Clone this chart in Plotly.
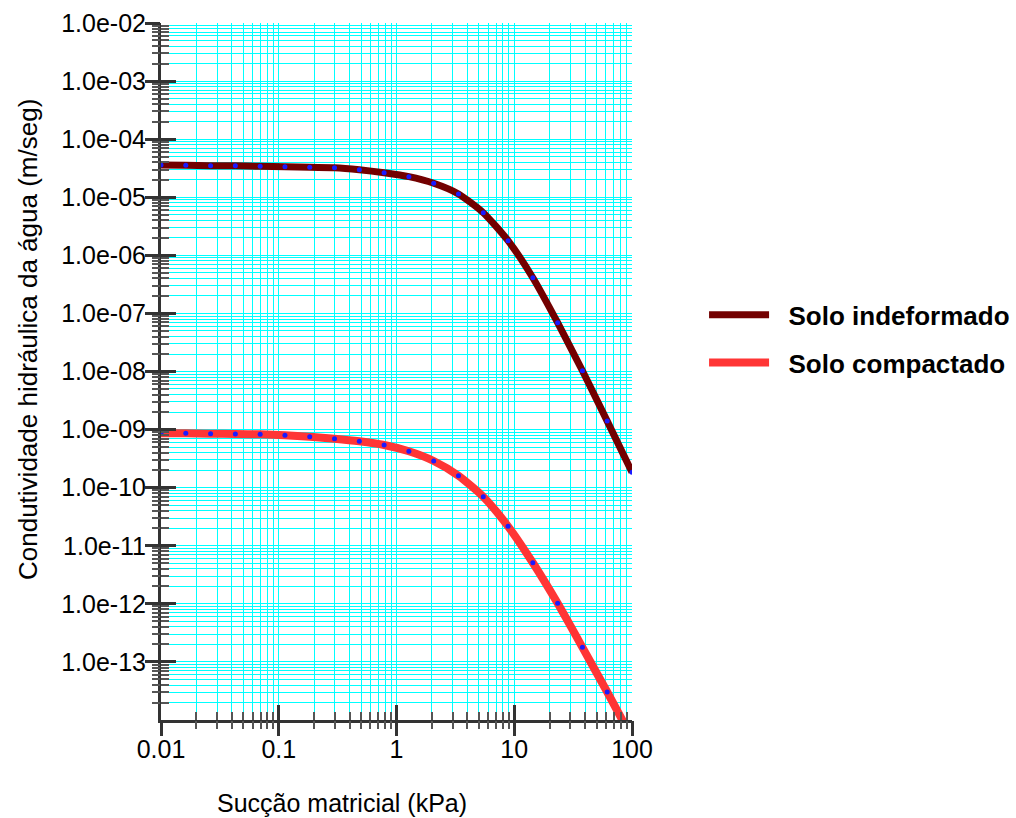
import plotly.graph_objects as go

# ---- data ----
suction_kpa = [0.01, 0.01624, 0.02637, 0.04281, 0.06952, 0.1129, 0.1833, 0.2976,
               0.4833, 0.7848, 1.274, 2.069, 3.360, 5.456, 8.859, 14.38, 23.36,
               37.93, 61.58, 100.0]
k_indeformado = [3.59e-5, 3.55e-5, 3.49e-5, 3.48e-5, 3.41e-5, 3.36e-5, 3.27e-5,
                 3.23e-5, 2.98e-5, 2.64e-5, 2.26e-5, 1.74e-5, 1.14e-5, 5.42e-6,
                 1.79e-6, 4.12e-7, 6.92e-8, 1.03e-8, 1.40e-9, 1.84e-10]
k_compactado = [8.63e-10, 8.63e-10, 8.49e-10, 8.39e-10, 8.28e-10, 7.96e-10,
                7.53e-10, 6.96e-10, 6.28e-10, 5.42e-10, 4.23e-10, 2.88e-10,
                1.61e-10, 6.98e-11, 2.16e-11, 5.1e-12, 1.02e-12, 1.78e-13,
                3.03e-14, 4.9e-15]

series_names = ["Solo indeformado", "Solo compactado"]
series_colors = ["#730000", "#FF3535"]
point_color = "#1a1aff"

x_tickvals = [0.01, 0.1, 1, 10, 100]
x_ticktext = ["0.01", "0.1", "1", "10", "100"]
y_tickvals = [1e-13, 1e-12, 1e-11, 1e-10, 1e-9, 1e-8, 1e-7, 1e-6, 1e-5, 1e-4, 1e-3, 1e-2]
y_ticktext = ["1.0e-13", "1.0e-12", "1.0e-11", "1.0e-10", "1.0e-09", "1.0e-08",
              "1.0e-07", "1.0e-06", "1.0e-05", "1.0e-04", "1.0e-03", "1.0e-02"]

x_title = "Sucção matricial (kPa)"
y_title = "Condutividade hidráulica da água (m/seg)"

FONT = "Liberation Sans, Arial, sans-serif"
GRID = "#00FFFF"
AXC = "#333333"
MINC = "#555555"

X_RANGE = [-2, 2]
Y_RANGE = [-14, -2]

x_minor = [k * 10.0 ** n for n in range(-2, 2) for k in range(2, 10)]
y_minor = [k * 10.0 ** n for n in range(-14, -2) for k in range(2, 10)]

# grid positions (major + minor) with labels only on the majors
x_grid = sorted(x_tickvals + x_minor)
x_grid_text = [dict(zip(x_tickvals, x_ticktext)).get(v, "") for v in x_grid]
y_grid = sorted(y_tickvals + y_minor)
y_grid_text = [dict(zip(y_tickvals, y_ticktext)).get(v, "") for v in y_grid]

fig = go.Figure()
for i, (name, ys, col, w) in enumerate(zip(series_names, [k_indeformado, k_compactado],
                                           series_colors, [7, 8])):
    fig.add_trace(go.Scatter(x=suction_kpa, y=ys, mode="lines",
                             name="&nbsp;&nbsp;<b>%s</b>" % name,
                             line=dict(color=col, width=w, shape="spline", smoothing=0.6),
                             legendgroup="g%d" % i))
    fig.add_trace(go.Scatter(x=suction_kpa, y=ys, mode="markers", showlegend=False,
                             marker=dict(color=point_color, size=5),
                             legendgroup="g%d" % i))

tick_font = dict(family=FONT, size=25, color="black")

layout_axes = {}
# overlay axes drawing the crossing tick marks (outer/inner, major/minor)
tick_specs = [
    (2, "outside", 15, 3, AXC, x_tickvals, y_tickvals),
    (3, "outside", 8, 2, MINC, x_minor, y_minor),
    (4, "inside", 15, 3, AXC, x_tickvals, y_tickvals),
    (5, "inside", 8, 2, MINC, x_minor, y_minor),
]
for n, side, tlen, twid, tcol, xv, yv in tick_specs:
    fig.add_trace(go.Scatter(x=[suction_kpa[0]], y=[k_indeformado[0]],
                             xaxis="x%d" % n, yaxis="y%d" % n, mode="markers",
                             marker=dict(opacity=0), showlegend=False, hoverinfo="skip"))
    layout_axes["xaxis%d" % n] = dict(
        type="log", range=X_RANGE, overlaying="x", anchor="y%d" % n, side="bottom",
        tickmode="array", tickvals=xv, showticklabels=False, showgrid=False,
        zeroline=False, showline=False, ticks=side, ticklen=tlen, tickwidth=twid,
        tickcolor=tcol)
    layout_axes["yaxis%d" % n] = dict(
        type="log", range=Y_RANGE, overlaying="y", anchor="x%d" % n, side="left",
        tickmode="array", tickvals=yv, showticklabels=False, showgrid=False,
        zeroline=False, showline=False, ticks=side, ticklen=tlen, tickwidth=twid,
        tickcolor=tcol)

fig.update_layout(
    template="none",
    width=1016, height=818,
    margin=dict(l=161, r=384, t=23, b=98, autoexpand=False),
    paper_bgcolor="white", plot_bgcolor="white",
    font=tick_font,
    showlegend=True,
    legend=dict(x=1.153, xanchor="left", y=0.547, yanchor="middle",
                font=dict(family=FONT, size=26, color="black"),
                bgcolor="rgba(0,0,0,0)", tracegroupgap=11, itemwidth=60,
                traceorder="grouped"),
    xaxis=dict(type="log", range=X_RANGE, tickmode="array", tickvals=x_grid,
               ticktext=x_grid_text, showgrid=True, gridcolor=GRID, gridwidth=1,
               showline=True, linecolor=AXC, linewidth=3, zeroline=False,
               ticks="", tickfont=tick_font, ticklabelstandoff=5),
    yaxis=dict(type="log", range=Y_RANGE, tickmode="array", tickvals=y_grid,
               ticktext=y_grid_text, showgrid=True, gridcolor=GRID, gridwidth=1,
               showline=True, linecolor=AXC, linewidth=3, zeroline=False,
               ticks="", tickfont=tick_font, ticklabelstandoff=7),
    annotations=[
        dict(text=x_title, xref="paper", yref="paper", x=(342 - 161) / 471,
             y=-(803 - 720) / 697, xanchor="center", yanchor="middle", showarrow=False,
             font=dict(family=FONT, size=25, color="black")),
        dict(text=y_title, xref="paper", yref="paper", x=-(161 - 28) / 471,
             y=(720 - 340) / 697, xanchor="center", yanchor="middle", showarrow=False,
             textangle=-90, font=dict(family=FONT, size=26, color="black")),
    ],
    **layout_axes,
)

fig.write_html("out.html", config={"displayModeBar": False},
               post_script="document.body.style.margin='0px';"
                           "document.body.style.overflow='hidden';")
